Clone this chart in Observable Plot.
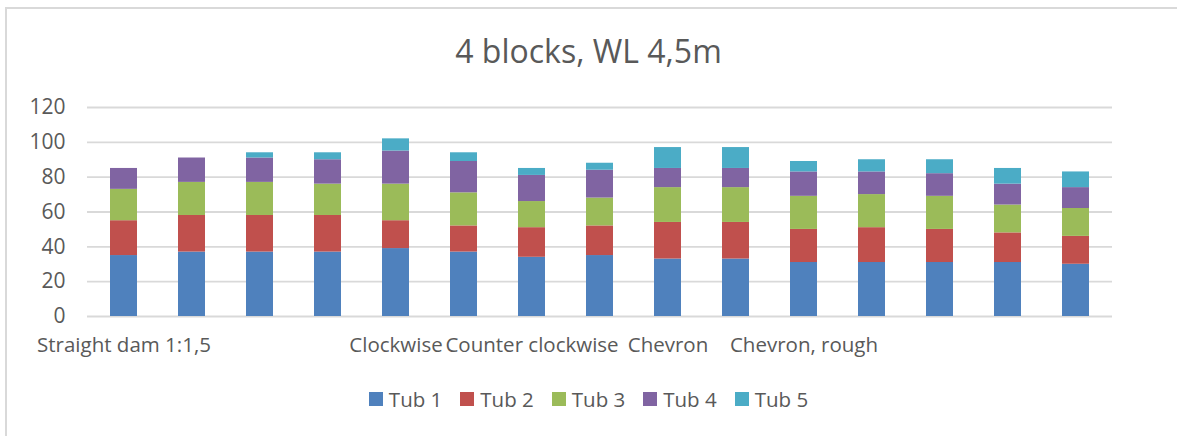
<!DOCTYPE html>
<html>
<head>
<meta charset="utf-8">
<script src="https://cdn.jsdelivr.net/npm/d3@7"></script>
<script src="https://cdn.jsdelivr.net/npm/@observablehq/plot@0.6"></script>
<style>
  html, body { margin: 0; padding: 0; background: #fff; overflow: hidden; }
  #wrap { position: relative; width: 1177px; height: 436px; overflow: hidden; font-family: "Open Sans", sans-serif; color: #595959; }
  #frame { position: absolute; left: 5px; top: 7px; width: 1400px; height: 600px; border: 2px solid #d9d9d9; }
  #title { position: absolute; left: 0; width: 1177px; top: 31px; text-align: center; font-size: 32px; line-height: 40px; }
  #chart { position: absolute; left: 0; top: 90px; }
  #legend { position: absolute; left: 0; width: 1177px; top: 385px; display: flex; justify-content: center; font-size: 20.5px; line-height: 28px; }
  .item { display: flex; align-items: center; margin: 0 9px; }
  .sw { width: 14px; height: 14px; margin-right: 6px; }
</style>
</head>
<body>
<div id="wrap">
  <div id="frame"></div>
  <div id="title">4 blocks, WL 4,5m</div>
  <div id="chart"></div>
  <div id="legend"></div>
</div>
<script>
const categories = [0, 1, 2, 3, 4, 5, 6, 7, 8, 9, 10, 11, 12, 13, 14];
const tickLabels = ["Straight dam 1:1,5", "", "", "", "Clockwise", "", "Counter clockwise", "", "Chevron", "", "Chevron, rough", "", "", "", ""];
const seriesNames = ["Tub 1", "Tub 2", "Tub 3", "Tub 4", "Tub 5"];
const seriesColors = ["#4F81BD", "#C0504D", "#9BBB59", "#8064A2", "#4BACC6"];
const tub1 = [35, 37, 37, 37, 39, 37, 34, 35, 33, 33, 31, 31, 31, 31, 30];
const tub2 = [20, 21, 21, 21, 16, 15, 17, 17, 21, 21, 19, 20, 19, 17, 16];
const tub3 = [18, 19, 19, 18, 21, 19, 15, 16, 20, 20, 19, 19, 19, 16, 16];
const tub4 = [12, 14, 14, 14, 19, 18, 15, 16, 11, 11, 14, 13, 13, 12, 12];
const tub5 = [0, 0, 3, 4, 7, 5, 4, 4, 12, 12, 6, 7, 8, 9, 9];
const yTicks = [0, 20, 40, 60, 80, 100, 120];

const allSeries = [tub1, tub2, tub3, tub4, tub5];
const data = [];
allSeries.forEach((vals, s) => {
  categories.forEach((c, i) => {
    data.push({cat: c, series: seriesNames[s], value: vals[i]});
  });
});

const chart = Plot.plot({
  width: 1177,
  height: 270,
  marginTop: 17,
  marginBottom: 44,
  marginLeft: 87,
  marginRight: 65,
  style: {fontFamily: "'Open Sans', sans-serif", color: "#595959", background: "transparent"},
  x: {domain: categories, paddingInner: 0.6, paddingOuter: 0.3, label: null},
  y: {domain: [0, 120], label: null},
  color: {domain: seriesNames, range: seriesColors},
  marks: [
    Plot.gridY(yTicks, {stroke: "#d9d9d9", strokeOpacity: 1, strokeWidth: 1.8}),
    Plot.barY(data, {x: "cat", y: "value", fill: "series", order: seriesNames}),
    Plot.axisY(yTicks, {tickSize: 0, tickPadding: 22, fontSize: 21, fill: "#595959", label: null}),
    Plot.axisX({tickSize: 0, tickPadding: 21, fontSize: 20.5, fill: "#595959", tickFormat: i => tickLabels[i], label: null})
  ]
});
document.getElementById("chart").appendChild(chart);

const legend = document.getElementById("legend");
seriesNames.forEach((n, i) => {
  const it = document.createElement("div");
  it.className = "item";
  const sw = document.createElement("div");
  sw.className = "sw";
  sw.style.background = seriesColors[i];
  const t = document.createElement("span");
  t.textContent = n;
  it.appendChild(sw);
  it.appendChild(t);
  legend.appendChild(it);
});
</script>
</body>
</html>
